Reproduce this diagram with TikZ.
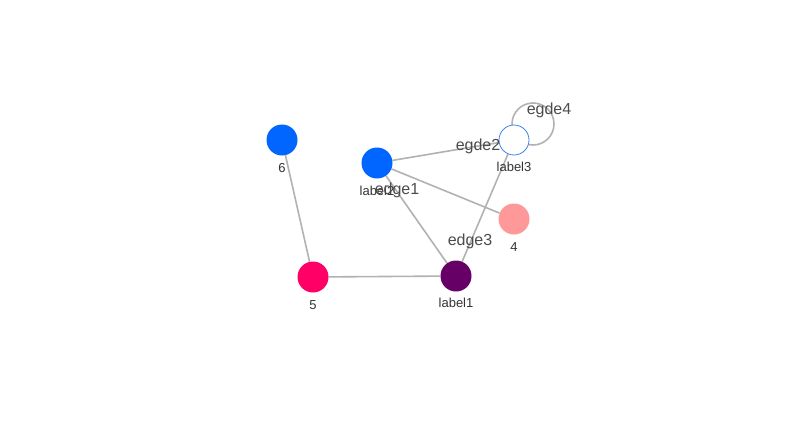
\documentclass[tikz,border=0pt]{standalone}
\usepackage{fontspec}
\setmainfont{Liberation Sans}
\usetikzlibrary{backgrounds}
\begin{document}
\begin{tikzpicture}[x=1pt,y=-1pt,
  vtx/.style={circle,inner sep=0pt,minimum size=31pt,draw=none},
  vlab/.style={font=\fontsize{13}{13}\selectfont,text=black!80,inner sep=0pt},
  elab/.style={font=\fontsize{16}{16}\selectfont,text=black!70,inner sep=0pt},
  edge/.style={draw=black!30,line width=1.6pt}]
\useasboundingbox (0,0) rectangle (800,434);
% nodes
\node[vtx,fill={rgb,255:red,0;green,102;blue,255}] (n6) at (282,140) {};
\node[vtx,fill={rgb,255:red,0;green,102;blue,255}] (n2) at (377,163) {};
\node[vtx,fill=white,draw={rgb,255:red,60;green,130;blue,240},line width=0.8pt,minimum size=30pt] (n3) at (514,140) {};
\node[vtx,fill={rgb,255:red,255;green,153;blue,153}] (n4) at (514,219) {};
\node[vtx,fill={rgb,255:red,255;green,0;blue,102}] (n5) at (313,277) {};
\node[vtx,fill={rgb,255:red,102;green,0;blue,102}] (n1) at (456,276) {};
% edges
\begin{scope}[on background layer]
\fill[white] (0,0) rectangle (800,434);
\draw[edge] (n6) -- (n5);
\draw[edge] (n5) -- (n1);
\draw[edge] (n2) -- (n1);
\draw[edge] (n2) -- (n3);
\draw[edge] (n2) -- (n4);
\draw[edge] (n1) -- (n3);
\draw[edge] (n3.center) ++(19,-16) circle (21);
\end{scope}
% vertex labels
\node[vlab] (l6) at (282,168) {6};
\node[vlab] (l2) at (377,191) {label2};
\node[vlab] (l3) at (514,167) {label3};
\node[vlab] (l4) at (514,247) {4};
\node[vlab] (l5) at (313,305) {5};
\node[vlab] (l1) at (456,303) {label1};
% edge labels
\node[elab] (e1) at (397,190) {edge1};
\node[elab] (e2) at (478,146) {egde2};
\node[elab] (e3) at (470,241) {edge3};
\node[elab] (e4) at (549,110) {egde4};
\end{tikzpicture}
\end{document}
